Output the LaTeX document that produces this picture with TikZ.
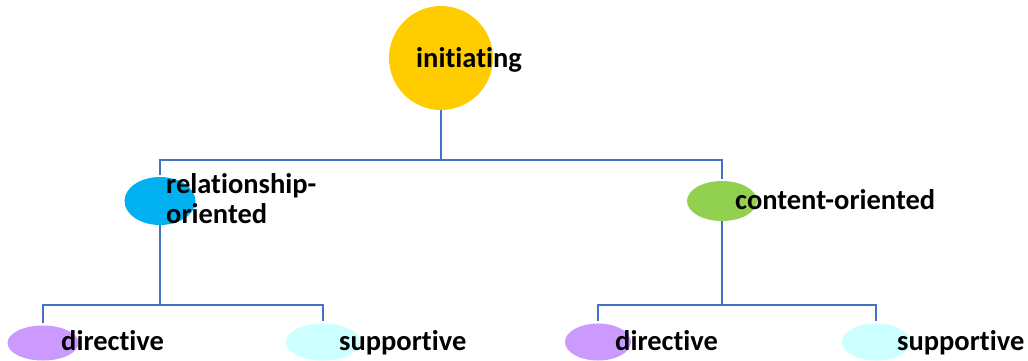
\documentclass[tikz,border=0pt]{standalone}
\usepackage{fontspec}
\setmainfont{Carlito}[Ligatures=NoCommon]
\usetikzlibrary{shapes.geometric}
\definecolor{linkblue}{HTML}{4472C4}
\definecolor{initcol}{HTML}{FFCC00}
\definecolor{relcol}{HTML}{00B0F0}
\definecolor{contcol}{HTML}{92D050}
\definecolor{dircol}{HTML}{CC99FF}
\definecolor{supcol}{HTML}{CCFFFF}
\begin{document}
\begin{tikzpicture}[x = 1pt, y = -1pt,
	blob/.style = {ellipse, inner sep = 0pt},
	lbl/.style = {anchor = base west, inner sep = 0pt, font = \fontsize{28.5}{30}\selectfont\bfseries},
	link/.style = {draw = linkblue, line width = 2.5pt, shorten > = 2pt}]
	\useasboundingbox (0,0) rectangle (1028,360);
	% circles and ellipses
	\node[blob, fill = initcol, minimum width = 104pt, minimum height = 104pt] (init) at (441,58) {};
	\node[blob, fill = relcol, minimum width = 71pt, minimum height = 48pt] (rel) at (160,201) {};
	\node[blob, fill = contcol, minimum width = 70pt, minimum height = 40pt] (cont) at (722,201) {};
	\node[blob, fill = dircol, minimum width = 71pt, minimum height = 35pt] (dirL) at (43,343) {};
	\node[blob, fill = supcol, minimum width = 74pt, minimum height = 37pt] (supL) at (323,342) {};
	\node[blob, fill = dircol, minimum width = 66pt, minimum height = 37pt] (dirR) at (598,342) {};
	\node[blob, fill = supcol, minimum width = 68pt, minimum height = 37pt] (supR) at (876,342) {};
	% connectors
	\coordinate (fork) at (441,160);
	\coordinate (forkL) at (160,305);
	\coordinate (forkR) at (722,305);
	\draw[link] (init) -- (fork) -| (rel);
	\draw[link] (fork) -| (cont);
	\draw[link] (rel) -- (forkL) -| (dirL);
	\draw[link] (forkL) -| (supL);
	\draw[link] (cont) -- (forkR) -| (dirR);
	\draw[link] (forkR) -| (supR);
	% labels
	\node[lbl] (initT) at (416,67) {initiating};
	\node[lbl] (relT) at (166,193) {relationship-};
	\node[lbl] (relT2) at (166,223) {oriented};
	\node[lbl] (contT) at (735,209) {content-oriented};
	\node[lbl] (dirLT) at (61,350) {directive};
	\node[lbl] (supLT) at (339,350) {supportive};
	\node[lbl] (dirRT) at (615,350) {directive};
	\node[lbl] (supRT) at (897,350) {supportive};
\end{tikzpicture}
\end{document}
